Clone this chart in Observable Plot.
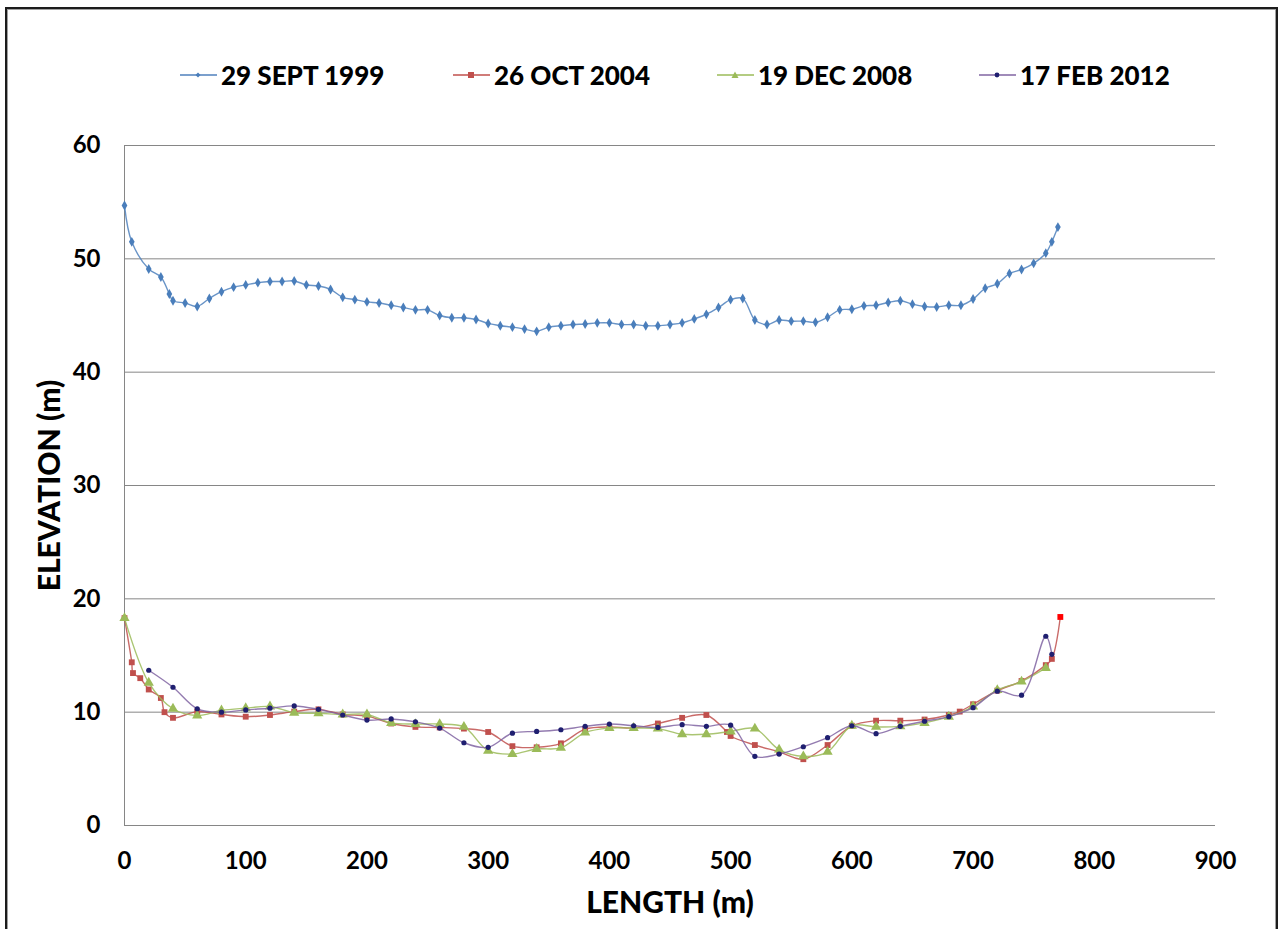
<!DOCTYPE html>
<html>
<head>
<meta charset="utf-8">
<script src="https://cdn.jsdelivr.net/npm/d3@7"></script>
<script src="https://cdn.jsdelivr.net/npm/@observablehq/plot@0.6"></script>
<style>
  body { margin: 0; background: #fff; }
  #wrap { position: relative; width: 1285px; height: 929px; overflow: hidden; font-family: Lato, "Open Sans", sans-serif; background: #fff; }
  #frame { position: absolute; left: 5px; top: 7px; width: 1269px; height: 980px; border: 2px solid #1c1c1c; box-shadow: inset 0 0 0 1px #a0a0a0; box-sizing: content-box; pointer-events: none; }
  #chart { position: absolute; left: 0; top: 0; }
  #legend { position: absolute; left: 0; top: 0; width: 1285px; height: 120px; }
  .item { position: absolute; top: 59px; height: 32px; display: flex; align-items: center; font-weight: 900; font-size: 26px; color: #000; white-space: nowrap; }
  .item svg { margin-right: 4px; }
</style>
</head>
<body>
<div id="wrap">
  <div id="chart"></div>
  <div id="legend"></div>
  <div id="frame"></div>
</div>
<script>
// ---- data ----
const seriesNames = ["29 SEPT 1999", "26 OCT 2004", "19 DEC 2008", "17 FEB 2012"];
const seriesColors = ["#4F81BD", "#C0504D", "#9BBB59", "#8064A2"];
const markerColors = ["#4A7EBB", "#C0504D", "#9BBB59", "#1F1F70"];
const markerSymbols = ["diamond", "square", "triangle", "circle"];

const len1999 = [0, 6, 20, 30, 37, 40, 50, 60, 70, 80, 90, 100, 110, 120, 130, 140, 150, 160, 170, 180, 190, 200, 210, 220, 230, 240, 250, 260, 270, 280, 290, 300, 310, 320, 330, 340, 350, 360, 370, 380, 390, 400, 410, 420, 430, 440, 450, 460, 470, 480, 490, 500, 510, 520, 530, 540, 550, 560, 570, 580, 590, 600, 610, 620, 630, 640, 650, 660, 670, 680, 690, 700, 710, 720, 730, 740, 750, 760, 765, 770];
const elev1999 = [54.7, 51.5, 49.1, 48.4, 46.9, 46.3, 46.1, 45.8, 46.5, 47.1, 47.5, 47.7, 47.9, 48.0, 48.0, 48.05, 47.7, 47.6, 47.3, 46.6, 46.4, 46.2, 46.1, 45.9, 45.7, 45.5, 45.5, 45.0, 44.8, 44.8, 44.65, 44.3, 44.1, 43.97, 43.8, 43.6, 43.97, 44.1, 44.2, 44.25, 44.35, 44.35, 44.2, 44.2, 44.1, 44.1, 44.2, 44.35, 44.7, 45.1, 45.7, 46.4, 46.5, 44.6, 44.2, 44.6, 44.5, 44.5, 44.4, 44.85, 45.5, 45.55, 45.85, 45.9, 46.15, 46.3, 46.0, 45.8, 45.75, 45.9, 45.9, 46.45, 47.4, 47.8, 48.7, 49.06, 49.6, 50.5, 51.5, 52.8];

const len2004 = [0, 6, 7, 13, 20, 30, 33, 40, 60, 80, 100, 120, 140, 160, 180, 200, 220, 240, 260, 280, 300, 320, 340, 360, 380, 400, 420, 440, 460, 480, 497, 500, 520, 540, 560, 580, 600, 620, 640, 660, 680, 689, 700, 720, 740, 760, 765, 772];
const elev2004 = [18.3, 14.4, 13.45, 13.0, 12.0, 11.25, 10.0, 9.5, 10.05, 9.8, 9.6, 9.75, 10.05, 10.25, 9.8, 9.65, 9.0, 8.7, 8.65, 8.55, 8.25, 7.0, 6.9, 7.25, 8.5, 8.7, 8.6, 9.0, 9.5, 9.75, 8.25, 7.9, 7.1, 6.5, 5.85, 7.1, 8.8, 9.25, 9.25, 9.35, 9.75, 10.05, 10.7, 11.9, 12.75, 14.15, 14.7, 18.4];

const len2008 = [0, 20, 40, 60, 80, 100, 120, 140, 160, 180, 200, 220, 240, 260, 280, 300, 320, 340, 360, 380, 400, 420, 440, 460, 480, 500, 520, 540, 560, 580, 600, 620, 640, 660, 680, 700, 720, 740, 760];
const elev2008 = [18.3, 12.6, 10.3, 9.7, 10.15, 10.35, 10.5, 9.95, 9.9, 9.8, 9.8, 9.05, 8.95, 8.95, 8.7, 6.6, 6.3, 6.75, 6.85, 8.2, 8.6, 8.6, 8.55, 8.05, 8.05, 8.3, 8.55, 6.7, 6.1, 6.5, 8.8, 8.7, 8.75, 9.05, 9.6, 10.5, 11.95, 12.7, 13.9];

const len2012 = [20, 40, 60, 80, 100, 120, 140, 160, 180, 200, 220, 240, 260, 280, 300, 320, 340, 360, 380, 400, 420, 440, 460, 480, 500, 520, 540, 560, 580, 600, 620, 640, 660, 680, 700, 720, 740, 760, 765];
const elev2012 = [13.7, 12.2, 10.3, 10.0, 10.2, 10.35, 10.55, 10.25, 9.75, 9.3, 9.4, 9.15, 8.6, 7.3, 6.9, 8.15, 8.3, 8.45, 8.75, 8.95, 8.8, 8.65, 8.9, 8.75, 8.85, 6.1, 6.3, 6.95, 7.75, 8.8, 8.1, 8.75, 9.2, 9.6, 10.4, 11.85, 11.5, 16.7, 15.1];

const xTicks = [0, 100, 200, 300, 400, 500, 600, 700, 800, 900];
const yTicks = [0, 10, 20, 30, 40, 50, 60];

// ---- build tables ----
const lens = [len1999, len2004, len2008, len2012];
const elevs = [elev1999, elev2004, elev2008, elev2012];
const tables = lens.map((L, i) => L.map((x, j) => ({L: x, E: elevs[i][j], s: i})));

const marks = [
  Plot.gridY(yTicks, {stroke: "#868686", strokeOpacity: 1, strokeWidth: 1}),
  Plot.ruleX([0], {stroke: "#868686", strokeWidth: 1}),
  Plot.axisY({ticks: yTicks, tickSize: 0, tickPadding: 24, fontSize: 24, label: null}),
  Plot.axisX({ticks: xTicks, tickSize: 0, tickPadding: 26, fontSize: 24, label: null})
];
const sizes = [3.0, 3.3, 3.8, 2.6];
tables.forEach((t, i) => {
  marks.push(Plot.line(t, {x: "L", y: "E", curve: "catmull-rom", stroke: seriesColors[i], strokeWidth: 1.4, strokeOpacity: 0.85}));
  marks.push(Plot.dot(t, {x: "L", y: "E", symbol: markerSymbols[i], r: sizes[i],
    fill: i === 1 ? (d => d.L === 772 ? "#FF0000" : markerColors[1]) : markerColors[i],
    stroke: "none"}));
});
marks.push(Plot.text(["LENGTH (m)"], {frameAnchor: "bottom", dy: 78, fontSize: 30, fontWeight: 900, fill: "#000", lineAnchor: "middle", textAnchor: "middle"}));
marks.push(Plot.text(["ELEVATION (m)"], {frameAnchor: "left", dx: -74, rotate: -90, fontSize: 30, fontWeight: 900, fill: "#000", lineAnchor: "middle", textAnchor: "middle"}));

const chart = Plot.plot({
  width: 1285,
  height: 929,
  marginLeft: 124,
  marginRight: 70,
  marginTop: 145,
  marginBottom: 104,
  style: {fontFamily: "Lato, 'Open Sans', sans-serif", fontWeight: "bold", color: "#000", background: "transparent", overflow: "visible"},
  x: {domain: [0, 900], label: null},
  y: {domain: [0, 60], label: null},
  marks
});
document.getElementById("chart").appendChild(chart);

// ---- legend ----
const legendLeft = [180, 453, 717, 979];
const legend = document.getElementById("legend");
const shapes = [
  '<path d="M18,2.5 L20.5,5 L18,7.5 L15.5,5 Z"/>',
  '<rect x="15" y="2" width="6" height="6"/>',
  '<path d="M18,1.5 L21.5,8 L14.5,8 Z"/>',
  '<circle cx="18" cy="5" r="2.4"/>'
];
seriesNames.forEach((name, i) => {
  const div = document.createElement("div");
  div.className = "item";
  div.style.left = legendLeft[i] + "px";
  div.innerHTML = `<svg width="37" height="10"><line x1="0" x2="37" y1="5" y2="5" stroke="${seriesColors[i]}" stroke-width="1.6"/><g fill="${markerColors[i]}">${shapes[i]}</g></svg><span>${name}</span>`;
  legend.appendChild(div);
});
</script>
</body>
</html>
